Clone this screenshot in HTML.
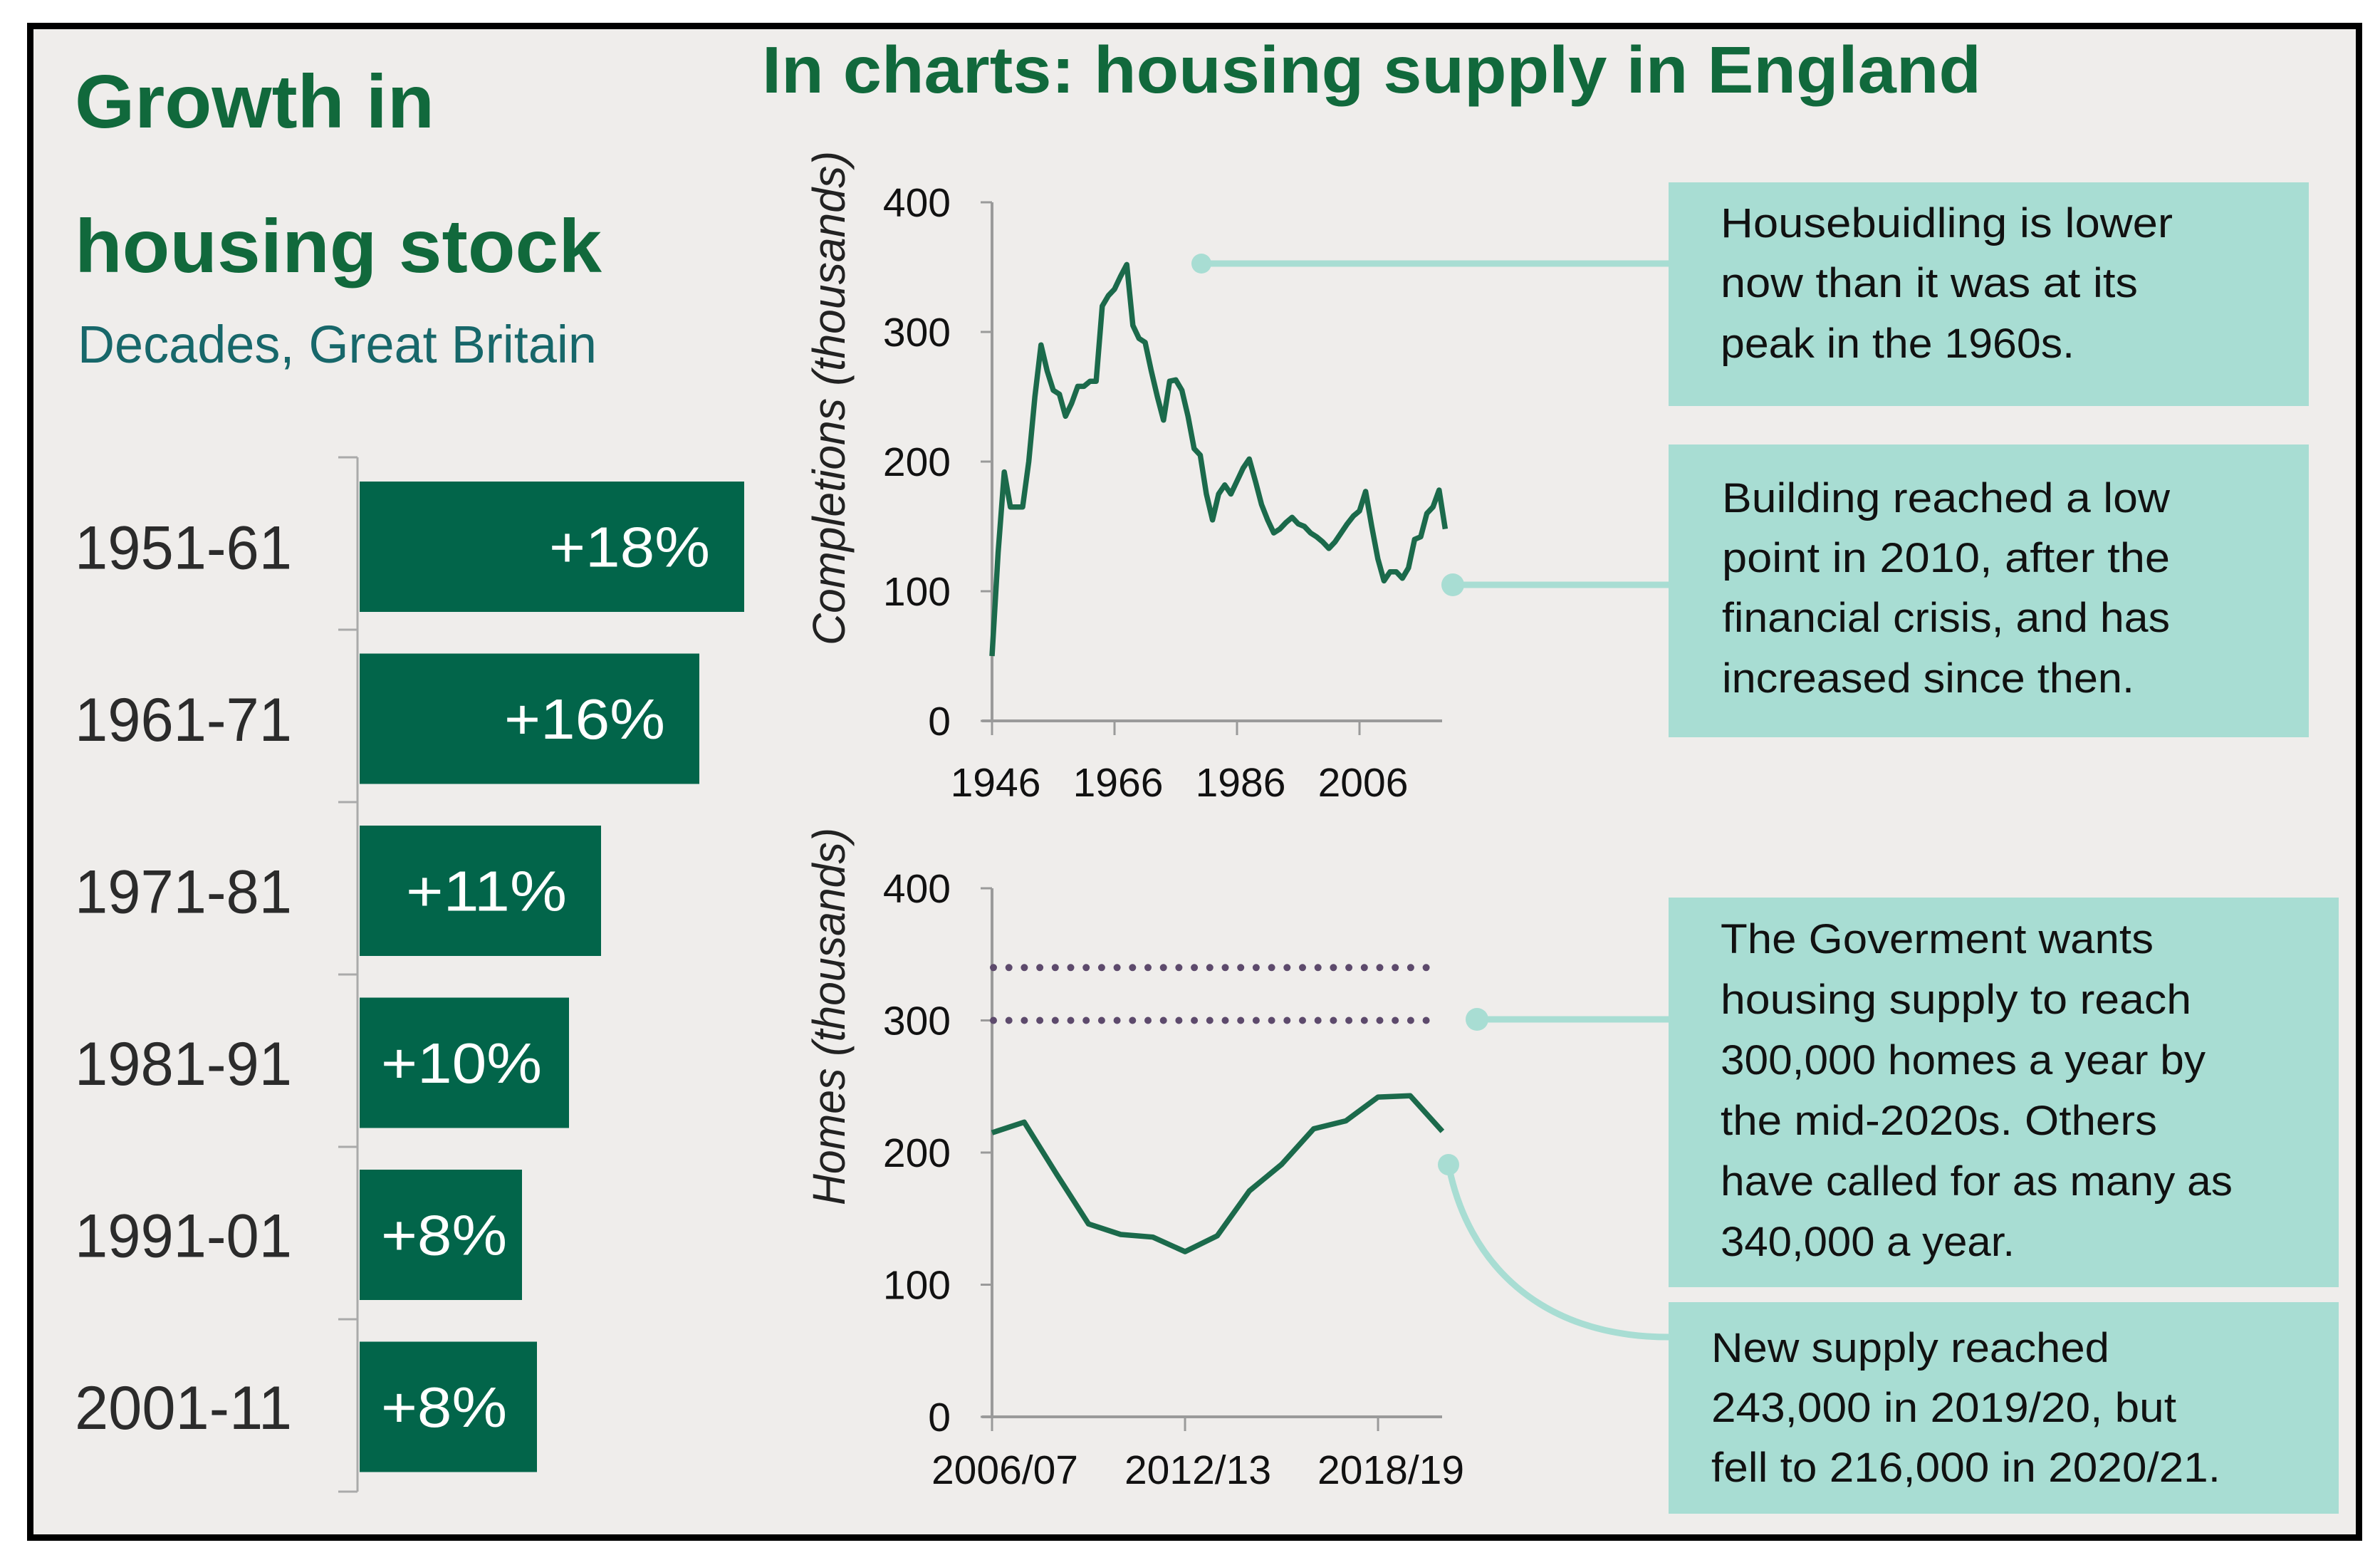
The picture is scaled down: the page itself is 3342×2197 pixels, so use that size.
<!DOCTYPE html>
<html><head><meta charset="utf-8"><style>
html,body{margin:0;padding:0;background:#fff;}
svg{display:block;}
text{font-family:"Liberation Sans",sans-serif;}
</style></head><body>
<svg id="root" width="3342" height="2197" viewBox="0 0 3342 2197">
  <rect x="0" y="0" width="3342" height="2197" fill="#ffffff"/>
  <rect x="42.5" y="36.5" width="3270" height="2122" fill="#efedeb" stroke="#000" stroke-width="9"/>

  <text x="105" y="179" font-size="106" font-weight="bold" fill="#11693c" textLength="505" lengthAdjust="spacingAndGlyphs">Growth in</text>
  <text x="105" y="382" font-size="106" font-weight="bold" fill="#11693c" textLength="740" lengthAdjust="spacingAndGlyphs">housing stock</text>
  <text x="109" y="509" font-size="74" fill="#17676a" textLength="729" lengthAdjust="spacingAndGlyphs">Decades, Great Britain</text>

  <text x="1070" y="130" font-size="93" font-weight="bold" fill="#11693c" textLength="1712" lengthAdjust="spacingAndGlyphs">In charts: housing supply in England</text>

  <g id="bars"></g>
  <g id="top"></g>
  <g id="bottom"></g>

  <g fill="#a8ddd3" stroke="#a8ddd3">
    <line x1="1687" y1="370" x2="2343" y2="370" stroke-width="9"/>
    <circle cx="1687" cy="370" r="14" stroke="none"/>
    <line x1="2040" y1="821" x2="2343" y2="821" stroke-width="9"/>
    <circle cx="2040" cy="821" r="16" stroke="none"/>
    <line x1="2074" y1="1431" x2="2343" y2="1431" stroke-width="9"/>
    <circle cx="2074" cy="1431" r="16" stroke="none"/>
    <path d="M2034,1635 C2060,1770 2160,1877 2343,1877" fill="none" stroke-width="9"/>
    <circle cx="2034" cy="1635" r="15" stroke="none"/>
  </g>

  <g font-size="58" fill="#111">
    <rect x="2343" y="256" width="899" height="314" fill="#a8ddd3"/>
    <text x="2416" y="333" textLength="635" lengthAdjust="spacingAndGlyphs">Housebuidling is lower</text>
    <text x="2416" y="417" textLength="586" lengthAdjust="spacingAndGlyphs">now than it was at its</text>
    <text x="2416" y="502" textLength="497" lengthAdjust="spacingAndGlyphs">peak in the 1960s.</text>
  </g>
  <g font-size="58" fill="#111">
    <rect x="2343" y="624" width="899" height="411" fill="#a8ddd3"/>
    <text x="2418" y="719" textLength="629" lengthAdjust="spacingAndGlyphs">Building reached a low</text>
    <text x="2418" y="803" textLength="629" lengthAdjust="spacingAndGlyphs">point in 2010, after the</text>
    <text x="2418" y="887" textLength="629" lengthAdjust="spacingAndGlyphs">financial crisis, and has</text>
    <text x="2418" y="972" textLength="579" lengthAdjust="spacingAndGlyphs">increased since then.</text>
  </g>
  <g font-size="58" fill="#111">
    <rect x="2343" y="1260" width="941" height="547" fill="#a8ddd3"/>
    <text x="2416" y="1338" textLength="608" lengthAdjust="spacingAndGlyphs">The Goverment wants</text>
    <text x="2416" y="1423" textLength="661" lengthAdjust="spacingAndGlyphs">housing supply to reach</text>
    <text x="2416" y="1508" textLength="681" lengthAdjust="spacingAndGlyphs">300,000 homes a year by</text>
    <text x="2416" y="1593" textLength="613" lengthAdjust="spacingAndGlyphs">the mid-2020s. Others</text>
    <text x="2416" y="1678" textLength="719" lengthAdjust="spacingAndGlyphs">have called for as many as</text>
    <text x="2416" y="1763" textLength="413" lengthAdjust="spacingAndGlyphs">340,000 a year.</text>
  </g>
  <g font-size="58" fill="#111">
    <rect x="2343" y="1828" width="941" height="297" fill="#a8ddd3"/>
    <text x="2403" y="1912" textLength="559" lengthAdjust="spacingAndGlyphs">New supply reached</text>
    <text x="2403" y="1996" textLength="653" lengthAdjust="spacingAndGlyphs">243,000 in 2019/20, but</text>
    <text x="2403" y="2080" textLength="715" lengthAdjust="spacingAndGlyphs">fell to 216,000 in 2020/21.</text>
  </g>
</svg>
<script>
const decades = ["1951-61","1961-71","1971-81","1981-91","1991-01","2001-11"];
const growthPct = [18.0, 15.9, 11.3, 9.8, 7.6, 8.3];
const growthLabels = ["+18%","+16%","+11%","+10%","+8%","+8%"];
const compStartYear = 1946;
const completions = [50,130,192,165,165,165,200,250,290,270,255,252,235,245,258,258,262,262,320,328,333,343,352,305,295,292,270,250,232,262,263,255,235,210,205,175,155,175,182,175,185,195,202,185,167,155,145,148,153,157,152,150,145,142,138,133,138,145,152,158,162,177,150,125,108,115,115,110,118,140,142,160,165,178,148];
const compYTicks = [0,100,200,300,400];
const compXTicks = [1946,1966,1986,2006];
const homesYears = ["2006/07","2007/08","2008/09","2009/10","2010/11","2011/12","2012/13","2013/14","2014/15","2015/16","2016/17","2017/18","2018/19","2019/20","2020/21"];
const homesValues = [215,223,184,146,138,136,125,137,171,191,218,224,242,243,216];
const homesTargets = [300,340];
const homesYTicks = [0,100,200,300,400];
const homesXTicks = ["2006/07","2012/13","2018/19"];

const NS="http://www.w3.org/2000/svg";
function mk(tag, attrs, parent){const e=document.createElementNS(NS,tag);for(const k in attrs)e.setAttribute(k,attrs[k]);parent.appendChild(e);return e;}

(function(){
  const g=document.getElementById('bars');
  const x0=505, pxPerPct=30, top0=676, pitch=241.5, h=183;
  const bx=v=>x0+v*pxPerPct;
  const axis=mk('line',{x1:502,y1:642,x2:502,y2:2094,stroke:'#aaa','stroke-width':3},g);
  
  
  for(let i=0;i<=decades.length;i++){
    const ty=642+i*242;
    const t=mk('line',{x1:475,y1:ty,x2:502,y2:ty,stroke:'#aaa','stroke-width':3},g);
    
    
  }
  decades.forEach((d,i)=>{
    const y=top0+i*pitch, w=bx(growthPct[i])-x0;
    const r=mk('rect',{x:x0,y:y,width:w,height:h,fill:'#02654a'},g);
    
    
    const lab=mk('text',{x:105,y:y+h/2+31,'font-size':86,fill:'#2b2b2b',textLength:305,lengthAdjust:'spacingAndGlyphs'},g);
    lab.textContent=d;
    
    
    const tw=growthLabels[i].length>3?226:177;
    let tx=x0+w-48-tw; if(tx<x0+30) tx=x0+30;
    const v=mk('text',{x:tx,y:y+h/2+28,'font-size':80,fill:'#fff',textLength:tw,lengthAdjust:'spacingAndGlyphs'},g);
    v.textContent=growthLabels[i];
    
    
  });
})();

function axes(g, ax, ay0, ay400, xEnd, yTicks, yTitle, yTitleCenter, yTitleLen){
  const sy=v=>ay0-(v/400)*(ay0-ay400);
  const yl=mk('line',{x1:ax,y1:ay400,x2:ax,y2:ay0,stroke:'#9a9a9a','stroke-width':4},g);
  
  
  const xl=mk('line',{x1:ax-14,y1:ay0,x2:xEnd,y2:ay0,stroke:'#9a9a9a','stroke-width':4},g);
  
  
  yTicks.forEach(v=>{
    const t=mk('line',{x1:ax-16,y1:sy(v),x2:ax,y2:sy(v),stroke:'#9a9a9a','stroke-width':3},g);
    
    
    const l=mk('text',{x:ax-58,y:sy(v)+20,'font-size':57,fill:'#111','text-anchor':'end'},g);
    l.textContent=v;
    
    
  });
  const tt=mk('text',{x:0,y:0,'font-size':64,'font-style':'italic',fill:'#222','text-anchor':'middle',textLength:yTitleLen,lengthAdjust:'spacingAndGlyphs',transform:`translate(1186,${yTitleCenter}) rotate(-90)`},g);
  tt.textContent=yTitle;
  
  
  return sy;
}

(function(){
  const g=document.getElementById('top');
  const ax=1393, ay0=1012, ay400=284, pxYear=8.6;
  const sx=y=>ax+(y-compStartYear)*pxYear;
  const sy=axes(g,ax,ay0,ay400,2025,compYTicks,'Completions (thousands)',559,694);
  compXTicks.forEach(y=>{
    const t=mk('line',{x1:sx(y),y1:ay0,x2:sx(y),y2:ay0+20,stroke:'#9a9a9a','stroke-width':3},g);
    
    
    const l=mk('text',{x:sx(y)+5,y:1118,'font-size':57,fill:'#111','text-anchor':'middle'},g);
    l.textContent=y;
    
    
  });
  const pts=completions.map((v,i)=>sx(compStartYear+i).toFixed(1)+','+sy(v).toFixed(1)).join(' ');
  const p=mk('polyline',{points:pts,fill:'none',stroke:'#1b6a4b','stroke-width':7.5,'stroke-linejoin':'round'},g);
  
  
})();

(function(){
  const g=document.getElementById('bottom');
  const ax=1393, ay0=1989, ay400=1247, pxYear=45.17;
  const sx=i=>ax+i*pxYear;
  const sy=axes(g,ax,ay0,ay400,2025,homesYTicks,'Homes (thousands)',1427,530);
  homesTargets.forEach(v=>{
    const tg=mk('g',{fill:'#5d4a6c'},g);
    
    
    for(let x=ax+2;x<=2015;x+=21.7){mk('circle',{cx:x.toFixed(1),cy:sy(v),r:5},tg);}
  });
  homesXTicks.forEach(lbl=>{
    const i=homesYears.indexOf(lbl);
    const t=mk('line',{x1:sx(i),y1:ay0,x2:sx(i),y2:ay0+20,stroke:'#9a9a9a','stroke-width':3},g);
    
    
    const l=mk('text',{x:sx(i)+18,y:2083,'font-size':57,fill:'#111','text-anchor':'middle'},g);
    l.textContent=lbl;
    
    
  });
  const pts=homesValues.map((v,i)=>sx(i).toFixed(1)+','+sy(v).toFixed(1)).join(' ');
  const p=mk('polyline',{points:pts,fill:'none',stroke:'#1b6a4b','stroke-width':7.5,'stroke-linejoin':'round'},g);
  
  
})();
</script>
</body></html>
